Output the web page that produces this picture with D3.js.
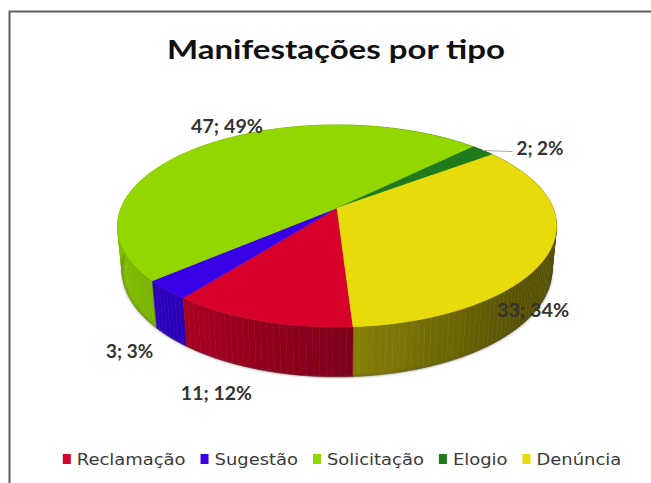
<!DOCTYPE html>
<html>
<head>
<meta charset="utf-8">
<script src="https://cdn.jsdelivr.net/npm/d3@7"></script>
<style>
    body { margin: 0; background: #fff; }
    svg { display: block; }
</style>
</head>
<body>
<div id="chart"></div>
<script>

// data
const categories = ["Reclamação", "Sugestão", "Solicitação", "Elogio", "Denúncia"];
const values = [11, 3, 47, 2, 33];
const percents = [12, 3, 49, 2, 34];
const colors = ["#d6002a", "#3700e6", "#92d700", "#1e7a1b", "#e8db0b"];

const width = 651, height = 483;

let svg = d3.select("#chart").append("svg")
    .attr("width", width)
    .attr("height", height);

// frame (only top and left edges are visible in the picture)
svg.append("path")
    .attr("d", "M9.5," + height + "V11.5H" + width)
    .attr("fill", "none")
    .attr("stroke", "#5f5f5f")
    .attr("stroke-width", 2);

// title
svg.append("text")
    .attr("x", 336)
    .attr("y", 59)
    .attr("text-anchor", "middle")
    .attr("font-family", "Lato, 'Open Sans', sans-serif")
    .attr("font-weight", "bold")
    .attr("font-size", 27)
    .attr("fill", "#111")
    .attr("textLength", 338)
    .attr("lengthAdjust", "spacingAndGlyphs")
    .text("Manifestações por tipo");

// 3D pie projection (perspective view of a tilted disc)
let cx = 337, cy = 208, rs = 216;
let D = 5.01, sinE = 0.453, cosE = Math.sqrt(1 - sinE * sinE), H = 0.231;
let S = rs * D;

function proj(a, r, h) {
    let X = r * Math.sin(a), Z = r * Math.cos(a);
    let yc = Z * sinE - h * cosE;
    let dep = D + Z * cosE + h * sinE;
    return [cx + S * X / dep, cy - S * yc / dep];
}

let a0 = 176.5 * Math.PI / 180;
let pie = d3.pie().sort(null).startAngle(a0).endAngle(a0 + 2 * Math.PI);
let arcs = pie(values);

let step = Math.PI / 120;
let line = d3.line();

// outer wall, drawn in small pieces from back to front
let pieces = [];
arcs.forEach(function(d, i) {
    let n = Math.max(1, Math.ceil((d.endAngle - d.startAngle) / step));
    let da = (d.endAngle - d.startAngle) / n;
    for (let k = 0; k < n; k++) {
        let a1 = d.startAngle + k * da, a2 = a1 + da;
        pieces.push({ i: i, a1: a1, a2: a2, mid: (a1 + a2) / 2 });
    }
});
pieces.sort((p, q) => Math.cos(q.mid) - Math.cos(p.mid));

function shade(c, a) {
    let f = Math.max(0.38, Math.min(1, 0.6 - 0.3 * Math.sin(a)));
    let col = d3.rgb(c);
    return d3.rgb(col.r * f, col.g * f, col.b * f).formatHex();
}

let walls = svg.append("g").attr("class", "walls");
walls.selectAll("path")
    .data(pieces)
    .enter()
    .append("path")
    .attr("d", p => line([proj(p.a1, 1, 0), proj(p.a2, 1, 0), proj(p.a2, 1, H), proj(p.a1, 1, H)]) + "Z")
    .attr("fill", p => shade(colors[p.i], p.mid))
    .attr("stroke", p => shade(colors[p.i], p.mid))
    .attr("stroke-width", 0.6);

// soft shadow along the lower rim
svg.append("defs").append("filter")
    .attr("id", "blur")
    .append("feGaussianBlur")
    .attr("stdDeviation", 0.8);

let rim = d3.range(92, 269, 1).map(deg => proj(deg * Math.PI / 180, 1, H));
svg.append("path")
    .attr("d", line(rim))
    .attr("fill", "none")
    .attr("stroke", "#444")
    .attr("stroke-opacity", 0.6)
    .attr("stroke-width", 1.3)
    .attr("filter", "url(#blur)");

// top faces
function topPath(d) {
    let n = Math.max(2, Math.ceil((d.endAngle - d.startAngle) / step));
    let pts = [[cx, cy]];
    for (let k = 0; k <= n; k++) {
        let a = d.startAngle + (d.endAngle - d.startAngle) * k / n;
        pts.push(proj(a, 1, 0));
    }
    return line(pts) + "Z";
}

svg.append("g").attr("class", "tops")
    .selectAll("path")
    .data(arcs)
    .enter()
    .append("path")
    .attr("d", topPath)
    .attr("fill", (d, i) => colors[i])
    .attr("stroke", (d, i) => colors[i])
    .attr("stroke-width", 0.5);

// data labels: placed relative to the rim point at each slice's middle
let labelNudge = [[-44, 79], [-37, 68], [20, -12], [57, 4], [-16, 65]];
let labelWidth = [71, 47, 72, 47, 72];
let hasLeader = [false, false, false, true, false];

let labels = svg.append("g").attr("class", "labels");
arcs.forEach(function(d, i) {
    let mid = (d.startAngle + d.endAngle) / 2;
    let p = proj(mid, 1, 0);
    let lx = p[0] + labelNudge[i][0], ly = p[1] + labelNudge[i][1];

    if (hasLeader[i]) {
        labels.append("path")
            .attr("d", line([p, [lx - labelWidth[i] / 2 - 4, ly - 3]]))
            .attr("stroke", "#a6a6a6")
            .attr("stroke-width", 1)
            .attr("fill", "none");
    }

    labels.append("text")
        .attr("x", lx)
        .attr("y", ly)
        .attr("text-anchor", "middle")
        .attr("font-family", "Lato, 'Open Sans', sans-serif")
        .attr("font-weight", "bold")
        .attr("font-size", 18)
        .attr("fill", "#333")
        .attr("textLength", labelWidth[i])
        .attr("lengthAdjust", "spacingAndGlyphs")
        .text(values[i] + "; " + percents[i] + "%");
});

// legend
let legend = svg.append("g").attr("class", "legend");
let lx = 0;
categories.forEach(function(c, i) {
    let item = legend.append("g").attr("transform", "translate(" + lx + ",0)");
    item.append("rect")
        .attr("x", 0)
        .attr("y", -11)
        .attr("width", 8)
        .attr("height", 10)
        .attr("fill", colors[i]);
    let t = item.append("text")
        .attr("x", 14)
        .attr("y", 0)
        .attr("font-family", "'DejaVu Sans', sans-serif")
        .attr("font-size", 16)
        .attr("fill", "#3a3a3a")
        .text(c);
    let w = t.node().getComputedTextLength() * 1.12;
    t.attr("textLength", w).attr("lengthAdjust", "spacingAndGlyphs");
    lx += 14 + w + 15;
});
let legendW = lx - 15;
legend.attr("transform", "translate(" + (342 - legendW / 2) + ",465)");

</script>
</body>
</html>
